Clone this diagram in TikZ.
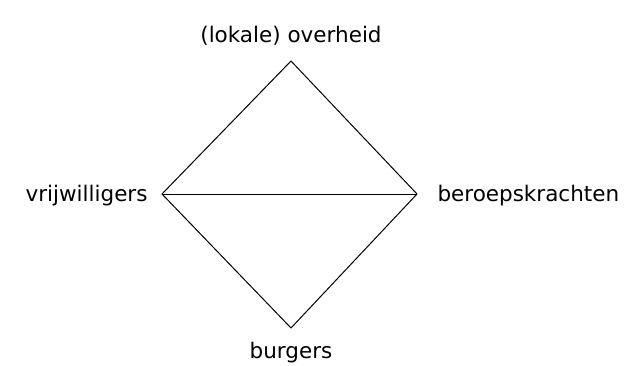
\documentclass[tikz,border=0pt]{standalone}
\usepackage{fontspec}
\setmainfont{DejaVu Sans}
\usepackage{tikz}
\usetikzlibrary{positioning}

\begin{document}
\begin{tikzpicture}[x=1pt, y=-1pt, line width=1pt,
        label/.style={font=\fontsize{21.5}{24}\selectfont, inner sep=0pt}]
        \useasboundingbox (0,0) rectangle (630,365);
        
        % Corners of the square
        \coordinate (top) at (291,61);
        \coordinate (left) at (162,194);
        \coordinate (right) at (417,194);
        \coordinate (bottom) at (291,328);
        
        % Square and middle line
        \draw (top) -- (right) -- (bottom) -- (left) -- cycle;
        \draw (left) -- (right);
        
        % Labels
        \node[label, anchor=base] (overheid) at (291,42) {(lokale) overheid};
        \node[label, anchor=base east] (vrijw) at (148,201) {vrijwilligers};
        \node[label, anchor=base west] (beroep) at (437,201) {beroepskrachten};
        \node[label, anchor=base] (burgers) at (291,358) {burgers};
    \end{tikzpicture}
\end{document}
